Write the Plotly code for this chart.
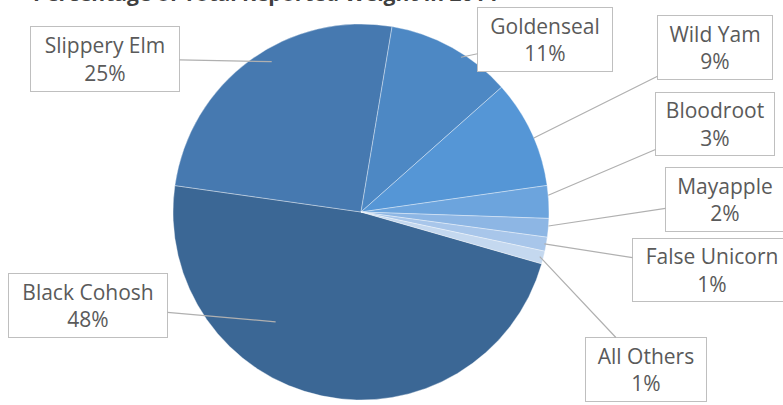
import math
import plotly.graph_objects as go

# ---- data ----
labels = ["Black Cohosh", "Slippery Elm", "Goldenseal", "Wild Yam",
          "Bloodroot", "Mayapple", "False Unicorn", "All Others"]
values = [47.8, 25.4, 10.8, 9.3, 2.8, 1.6, 1.2, 1.1]
title_text = "Percentage of Total Reported Weight in 2014"

# ---- style ----
colors = ["#3B6795", "#4679B0", "#4D88C4", "#5596D6",
          "#6CA4DD", "#8DB6E4", "#A8C6EA", "#C4D8EF"]
W, H = 783, 405
CX, CY, R = 361, 212, 188          # pie centre / radius in px
ROTATION = 106.0                    # start angle of first slice (clockwise from 12 o'clock)

# label box centres (px) and box sizes
box_centers = {
    "Slippery Elm": (105, 58.5), "Goldenseal": (545, 39.5), "Wild Yam": (715, 47.5),
    "Bloodroot": (715, 124), "Mayapple": (725, 199.5), "False Unicorn": (712, 270),
    "All Others": (646, 369.5), "Black Cohosh": (88, 305.5),
}
box_sizes = {
    "Slippery Elm": (150, 66), "Goldenseal": (136, 65), "Wild Yam": (116, 65),
    "Bloodroot": (120, 64), "Mayapple": (120, 65), "False Unicorn": (160, 64),
    "All Others": (122, 65), "Black Cohosh": (160, 65),
}
# where along the slice (angular fraction, radial fraction) the leader line points
anchor = {
    "Black Cohosh": (0.65, 0.74), "Slippery Elm": (0.56, 0.93), "Goldenseal": (0.6, 0.98),
    "Wild Yam": (0.55, 1.0), "Bloodroot": (0.3, 1.0), "Mayapple": (0.4, 1.0),
    "False Unicorn": (0.5, 0.99), "All Others": (0.5, 0.98),
}

fig = go.Figure(go.Pie(
    labels=labels, values=values, sort=False, direction="clockwise",
    rotation=ROTATION, textinfo="none", hoverinfo="label+percent",
    marker=dict(colors=colors, line=dict(color="rgba(255,255,255,0.45)", width=0.8)),
    domain=dict(x=[(CX - R) / W, (CX + R) / W], y=[1 - (CY + R) / H, 1 - (CY - R) / H]),
    showlegend=False,
))

total = sum(values)
annotations = []
angle = ROTATION
for lab, v in zip(labels, values):
    span = 360.0 * v / total
    fa, fr = anchor[lab]
    th = math.radians(angle + fa * span)
    tx = CX + fr * R * math.sin(th)
    ty = CY - fr * R * math.cos(th)
    angle += span
    bx, by = box_centers[lab]
    bw, bh = box_sizes[lab]
    pct = round(100.0 * v / total)
    annotations.append(dict(
        x=tx / W, y=1 - ty / H, xref="paper", yref="paper",
        ax=bx - tx, ay=by - ty, axref="pixel", ayref="pixel",
        text=f"{lab}<br>{pct}%", showarrow=True, arrowhead=0, arrowwidth=1.2,
        arrowcolor="#B0B0B0", standoff=0, startstandoff=0,
        font=dict(family="Open Sans", size=21, color="#5A5A5A"),
        bgcolor="white", bordercolor="#BFBFBF", borderwidth=1, borderpad=0,
        width=bw - 2, height=bh - 2, align="center", valign="middle",
    ))

annotations.append(dict(
    x=265 / W, y=1 + 7 / H, xref="paper", yref="paper", xanchor="center", yanchor="middle",
    text=f"<b>{title_text}</b>", showarrow=False,
    font=dict(family="Open Sans", size=21, color="#404040"),
))

fig.update_layout(
    width=W, height=H, margin=dict(l=0, r=0, t=0, b=0),
    paper_bgcolor="white", plot_bgcolor="white",
    annotations=annotations,
)
fig.write_html("out.html")
